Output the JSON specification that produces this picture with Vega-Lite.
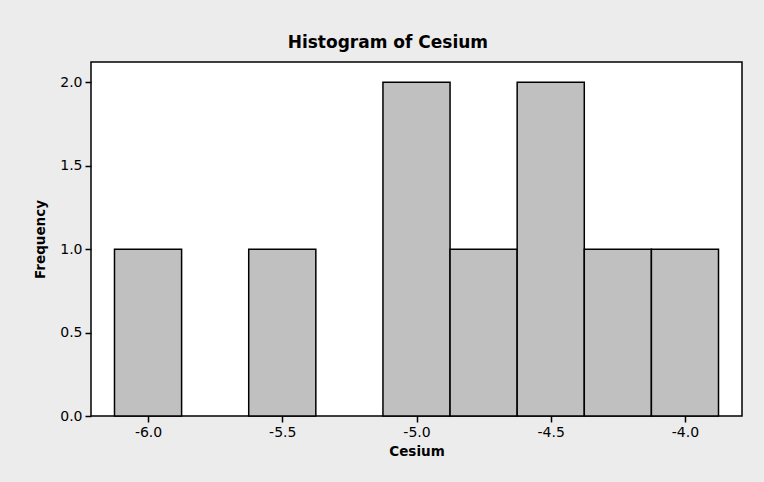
{
  "$schema": "https://vega.github.io/schema/vega-lite/v6.json",
  "width": 651,
  "height": 354,
  "autosize": {"type": "none"},
  "padding": {"left": 91, "top": 62, "right": 22, "bottom": 66},
  "background": "#ececec",
  "title": {
    "text": "Histogram of Cesium",
    "frame": "bounds",
    "anchor": "middle",
    "font": "DejaVu Sans",
    "fontSize": 17,
    "fontWeight": "bold",
    "color": "#000000",
    "offset": 10
  },
  "data": {
    "values": [
      {"start": -6.125, "end": -5.875, "count": 1},
      {"start": -5.625, "end": -5.375, "count": 1},
      {"start": -5.125, "end": -4.875, "count": 2},
      {"start": -4.875, "end": -4.625, "count": 1},
      {"start": -4.625, "end": -4.375, "count": 2},
      {"start": -4.375, "end": -4.125, "count": 1},
      {"start": -4.125, "end": -3.875, "count": 1}
    ]
  },
  "mark": {"type": "rect", "fill": "#c0c0c0", "stroke": "#000000", "strokeWidth": 1.5},
  "encoding": {
    "x": {
      "field": "start",
      "type": "quantitative",
      "scale": {"domain": [-6.2125, -3.7875], "nice": false, "zero": false},
      "axis": {
        "values": [-6, -5.5, -5, -4.5, -4],
        "labelExpr": "replace(format(datum.value, '.1f'), '\u2212', '-')",
        "title": "Cesium",
        "grid": false,
        "domain": false,
        "tickColor": "#000000",
        "tickSize": 6,
        "tickWidth": 1.5,
        "labelFont": "DejaVu Sans",
        "labelFontSize": 14,
        "labelColor": "#000000",
        "labelPadding": 3,
        "titleFont": "DejaVu Sans",
        "titleFontSize": 13.5,
        "titleFontWeight": "bold",
        "titleColor": "#000000",
        "titlePadding": 5
      }
    },
    "x2": {"field": "end"},
    "y": {
      "field": "count",
      "type": "quantitative",
      "scale": {"domain": [0, 2.122], "nice": false},
      "axis": {
        "values": [0, 0.5, 1, 1.5, 2],
        "format": ".1f",
        "title": "Frequency",
        "grid": false,
        "domain": false,
        "tickColor": "#000000",
        "tickSize": 6,
        "tickWidth": 1.5,
        "labelFont": "DejaVu Sans",
        "labelFontSize": 14,
        "labelColor": "#000000",
        "labelPadding": 3,
        "titleFont": "DejaVu Sans",
        "titleFontSize": 13.5,
        "titleFontWeight": "bold",
        "titleColor": "#000000",
        "titlePadding": 12
      }
    },
    "y2": {"datum": 0}
  },
  "config": {
    "view": {"fill": "#ffffff", "stroke": "#000000", "strokeWidth": 1.5}
  }
}
